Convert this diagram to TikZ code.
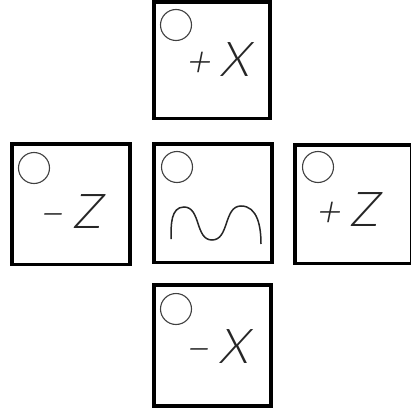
\documentclass[tikz,border=0pt]{standalone}
\usepackage{fontspec}
\newfontfamily\lfont{Lato Light}[FakeSlant=0.2]
\newcommand\axlab[2]{{\fontsize{42}{42}\selectfont #1}\hspace{10pt}{\fontsize{48}{48}\selectfont #2}}
\begin{document}
\begin{tikzpicture}[x=1pt,y=-1pt,
  panel/.style={draw=black,line width=3.5pt},
  knob/.style={draw=black!75,line width=1.1pt},
  lbl/.style={font=\lfont,text=black!85,inner sep=0pt,anchor=base west},
  wave/.style={draw=black!85,line width=1.5pt}]
\useasboundingbox (0,0) rectangle (410,412);
% panels
\draw[panel] (154,2) rectangle (270,118.5);
\draw[panel] (12,144) rectangle (130,264.5);
\draw[panel] (154,144) rectangle (272,262.5);
\draw[panel] (295,145) rectangle (412,263.5);
\draw[panel] (154,285) rectangle (271,406);
% knobs
\draw[knob] (176,25) circle (15.5);
\draw[knob] (34,168) circle (15.5);
\draw[knob] (177,167) circle (15.5);
\draw[knob] (318,167) circle (15.5);
\draw[knob] (176,309) circle (15.5);
% labels
\node[lbl] (px) at (185,77) {\axlab{+}{X}};
\node[lbl] (mz) at (38,228) {\axlab{−}{Z}};
\node[lbl] (pz) at (315,226) {\axlab{+}{Z}};
\node[lbl] (mx) at (184,363) {\axlab{−}{X}};
% wave
\draw[wave] (171,239) to[out=90,in=180] (184,207) to[out=0,in=180] (212,240)
  to[out=0,in=180] (241,206) to[out=0,in=90] (261,244);
\end{tikzpicture}
\end{document}
